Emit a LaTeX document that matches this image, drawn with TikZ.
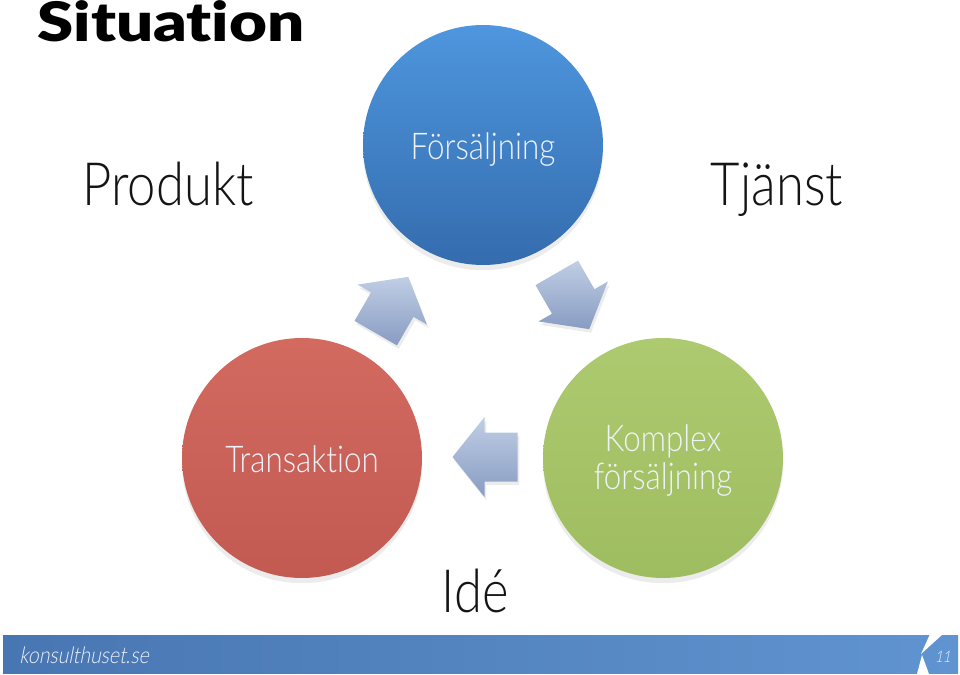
\documentclass[tikz,border=0pt]{standalone}
\usepackage{fontspec}
\usepackage{tikz}
\usetikzlibrary{shadows}
\IfFontExistsTF{Lato Light}
  {\newfontfamily\thinfont{Lato Light}[FakeStretch=0.85,Ligatures=NoCommon]
   \newfontfamily\slantfont{Lato Light}[FakeStretch=0.85,FakeSlant=0.2,Ligatures=NoCommon]}
  {\newfontfamily\thinfont{Lato}[FakeStretch=0.85,Ligatures=NoCommon]
   \newfontfamily\slantfont{Lato}[FakeStretch=0.85,FakeSlant=0.2,Ligatures=NoCommon]}
\IfFontExistsTF{Lato Black}
  {\newfontfamily\heavyfont{Lato Black}[FakeStretch=1.2,Ligatures=NoCommon]}
  {\newfontfamily\heavyfont{Lato}[FakeStretch=1.2,Ligatures=NoCommon,UprightFeatures={FakeBold=2}]}
\definecolor{cblueT}{RGB}{78,150,222}
\definecolor{cblueB}{RGB}{52,108,174}
\definecolor{credT}{RGB}{210,106,96}
\definecolor{credB}{RGB}{194,90,82}
\definecolor{cgreenT}{RGB}{174,202,112}
\definecolor{cgreenB}{RGB}{158,188,96}
\definecolor{arrowT}{RGB}{192,206,229}
\definecolor{arrowB}{RGB}{136,156,194}
\definecolor{footL}{RGB}{72,118,178}
\definecolor{footR}{RGB}{96,148,208}
\definecolor{txtlight}{RGB}{238,242,249}
\tikzset{
  stage/.style={
    circle, minimum size=4.8cm, inner sep=0pt,
    align=center, text=txtlight,
    font=\thinfont\fontsize{21}{22}\selectfont,
    drop shadow={opacity=0.15, shadow xshift=0pt, shadow yshift=-3pt}
  },
  stageB/.style={stage, top color=cblueT, bottom color=cblueB},
  stageR/.style={stage, top color=credT, bottom color=credB},
  stageG/.style={stage, top color=cgreenT, bottom color=cgreenB},
  word/.style={
    anchor=base, text=black!92,
    font=\thinfont\fontsize{34}{40}\selectfont
  },
  flowarrow/.style={
    top color=arrowT, bottom color=arrowB,
    drop shadow={opacity=0.15, shadow xshift=1pt, shadow yshift=-2pt}
  },
  cyclearrow/.pic={
    \path[flowarrow] (32.5,0) -- (0.5,-40) -- (0.5,-24.5) -- (-32.5,-24.5)
      -- (-32.5,24.5) -- (0.5,24.5) -- (0.5,40) -- cycle;
  }
}
\begin{document}
\begin{tikzpicture}[x=0.02cm, y=-0.02cm]
  \useasboundingbox (0,0) rectangle (960,675);

  %% Title
  \node[anchor=base west, inner sep=0pt, text=black,
    font=\heavyfont\fontsize{31}{36}\selectfont] (title) at (37,42) {Situation};

  %% Cycle
  \node[stageB] (sale) at (483,145) {\raisebox{0pt}[17pt][0pt]{Försäljning}};
  \node[stageR] (trans) at (302,458) {\raisebox{0pt}[16pt][0pt]{Transaktion}};
  \node[stageG] (complex) at (663,458)
    {\raisebox{0pt}[36pt][0pt]{\shortstack{Komplex\\försäljning}}};

  \pic[rotate=60] at (392,305) {cyclearrow};
  \pic[rotate=-60] at (573,301) {cyclearrow};
  \pic[rotate=180] at (485,457) {cyclearrow};

  %% Side words
  \node[word] (prod) at (168,206) {Produkt};
  \node[word] (serv) at (777,206) {Tjänst};
  \node[word] (idea) at (475,612) {Idé};

  %% Footer
  \path[left color=footL, right color=footR] (3,635) rectangle (958,673);
  \fill[white] (930,634) -- (943,634) -- (921,654) -- cycle;
  \fill[white] (917,674) -- (929,674) -- (922,655) -- cycle;
  \node[anchor=base west, inner sep=0pt, text=txtlight,
    font=\slantfont\fontsize{13}{15}\selectfont] (site) at (19,663) {konsulthuset.se};
  \node[anchor=base east, inner sep=0pt, text=txtlight,
    font=\slantfont\fontsize{9}{11}\selectfont] (page) at (951,662) {11};
\end{tikzpicture}
\end{document}
